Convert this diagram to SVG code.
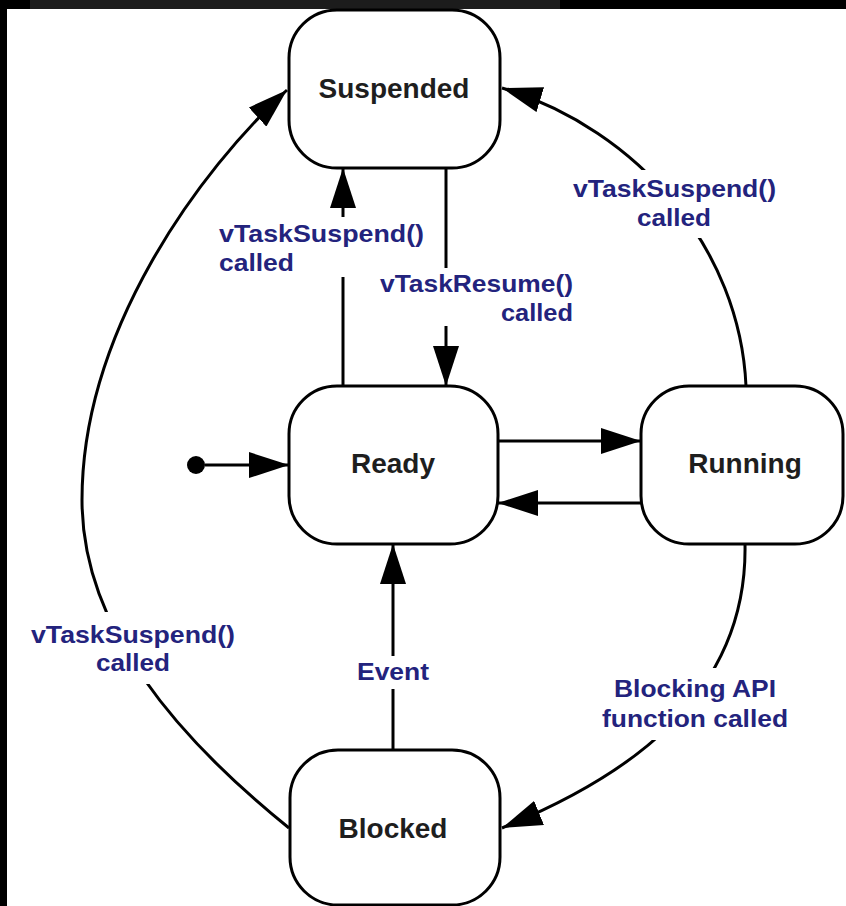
<svg xmlns="http://www.w3.org/2000/svg" width="846" height="906" viewBox="0 0 846 906">
<defs>
<style>
.node{fill:#fff;stroke:#000;stroke-width:3}
.ntext{font-family:"Liberation Sans",Arial,sans-serif;font-weight:bold;font-size:28px;fill:#1e1e1e;text-anchor:middle}
.lbl{font-family:"Liberation Sans",Arial,sans-serif;font-weight:bold;font-size:24px;fill:#23237d}
.edge{fill:none;stroke:#000;stroke-width:3}
.mask{fill:#fff;stroke:none}
</style>
<marker id="arr" viewBox="0 0 40 26" markerUnits="userSpaceOnUse" markerWidth="40" markerHeight="26" refX="40" refY="13" orient="auto">
<path d="M0,0 L40,13 L0,26 z" fill="#000"/>
</marker>
</defs>
<rect x="0" y="0" width="846" height="906" fill="#000"/>
<rect x="30" y="0" width="530" height="9" fill="#1c1c1c"/>
<rect x="7" y="9" width="839" height="897" fill="#fff"/>

<g id="connectors">
<line class="edge" x1="205" y1="465" x2="289" y2="465" marker-end="url(#arr)"/>
<line class="edge" x1="498" y1="441" x2="641" y2="441" marker-end="url(#arr)"/>
<line class="edge" x1="641" y1="503" x2="498" y2="503" marker-end="url(#arr)"/>
<line class="edge" x1="343" y1="386" x2="343" y2="168" marker-end="url(#arr)"/>
<line class="edge" x1="446" y1="168" x2="446" y2="386" marker-end="url(#arr)"/>
<line class="edge" x1="393" y1="750" x2="393" y2="544" marker-end="url(#arr)"/>
<path class="edge" d="M746,386 C740,250 640,130 502,88" marker-end="url(#arr)"/>
<path class="edge" d="M745,544 C748,700 620,780 502,828" marker-end="url(#arr)"/>
<path class="edge" d="M289,828 C180,740 82,630 82,500 C82,330 200,170 287,90" marker-end="url(#arr)"/>
</g>

<g id="labels">
<rect class="mask" x="213" y="217" width="217" height="60"/>
<text class="lbl" x="219" y="242" textLength="205" lengthAdjust="spacingAndGlyphs">vTaskSuspend()</text>
<text class="lbl" x="219" y="271" textLength="75" lengthAdjust="spacingAndGlyphs">called</text>

<rect class="mask" x="374" y="268" width="205" height="58"/>
<text class="lbl" x="380" y="292" textLength="193" lengthAdjust="spacingAndGlyphs">vTaskResume()</text>
<text class="lbl" x="501" y="321" textLength="72" lengthAdjust="spacingAndGlyphs">called</text>

<rect class="mask" x="565" y="170" width="218" height="68"/>
<text class="lbl" x="573" y="197" textLength="203" lengthAdjust="spacingAndGlyphs">vTaskSuspend()</text>
<text class="lbl" x="637" y="226" textLength="74" lengthAdjust="spacingAndGlyphs">called</text>

<rect class="mask" x="24" y="612" width="218" height="72"/>
<text class="lbl" x="31" y="643" textLength="204" lengthAdjust="spacingAndGlyphs">vTaskSuspend()</text>
<text class="lbl" x="96" y="671" textLength="74" lengthAdjust="spacingAndGlyphs">called</text>

<rect class="mask" x="350" y="656" width="86" height="33"/>
<text class="lbl" x="357" y="680" textLength="72" lengthAdjust="spacingAndGlyphs">Event</text>

<rect class="mask" x="596" y="668" width="198" height="72"/>
<text class="lbl" x="614" y="697" textLength="162" lengthAdjust="spacingAndGlyphs">Blocking API</text>
<text class="lbl" x="602" y="727" textLength="186" lengthAdjust="spacingAndGlyphs">function called</text>
</g>

<g id="suspended">
<rect class="node" x="289" y="10" width="211" height="158" rx="48" ry="48"/>
<text class="ntext" x="394" y="98">Suspended</text>
</g>
<g id="ready">
<rect class="node" x="289" y="386" width="209" height="158" rx="48" ry="48"/>
<text class="ntext" x="393" y="473">Ready</text>
</g>
<g id="running">
<rect class="node" x="641" y="386" width="202" height="158" rx="48" ry="48"/>
<text class="ntext" x="745" y="473">Running</text>
</g>
<g id="blocked">
<rect class="node" x="290" y="750" width="210" height="155" rx="48" ry="48"/>
<text class="ntext" x="393" y="838">Blocked</text>
</g>
<g id="initial">
<circle cx="196" cy="465" r="9" fill="#000"/>
</g>
</svg>
